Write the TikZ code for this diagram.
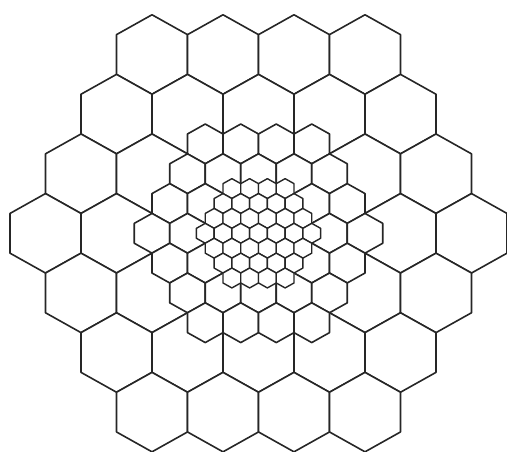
\documentclass[tikz,border=0pt]{standalone}
\newcommand\hexarray[5]{%
  \foreach \r in {-3,...,3}{%
    \pgfmathtruncatemacro\nn{7-abs(\r)}%
    \pgfmathtruncatemacro\nm{\nn-1}%
    \foreach \c in {0,...,\nm}{%
      \pgfmathsetmacro\hx{#1+#3*(\c-\nm/2)}%
      \pgfmathsetmacro\hy{#2+#4*\r}%
      \filldraw[#5] (\hx-#3/2,\hy-#4/3) -- (\hx,\hy-2*#4/3) -- (\hx+#3/2,\hy-#4/3)
        -- (\hx+#3/2,\hy+#4/3) -- (\hx,\hy+2*#4/3) -- (\hx-#3/2,\hy+#4/3) -- cycle;
    }%
  }%
}
\begin{document}
\begin{tikzpicture}[x=1pt,y=-1pt,line join=round,
  hexline/.style={draw=black!85,fill=white,line width=1.6pt},
  hexsmall/.style={draw=black!85,fill=white,line width=1.4pt}]
\useasboundingbox (0,0) rectangle (507,452);
% large cells
\hexarray{258.5}{233.3}{71}{59.6}{hexline}
% medium cells
\hexarray{258.5}{233.3}{35.5}{29.8}{hexline}
% small cells
\hexarray{258.5}{233.3}{17.75}{14.9}{hexsmall}
\end{tikzpicture}
\end{document}
